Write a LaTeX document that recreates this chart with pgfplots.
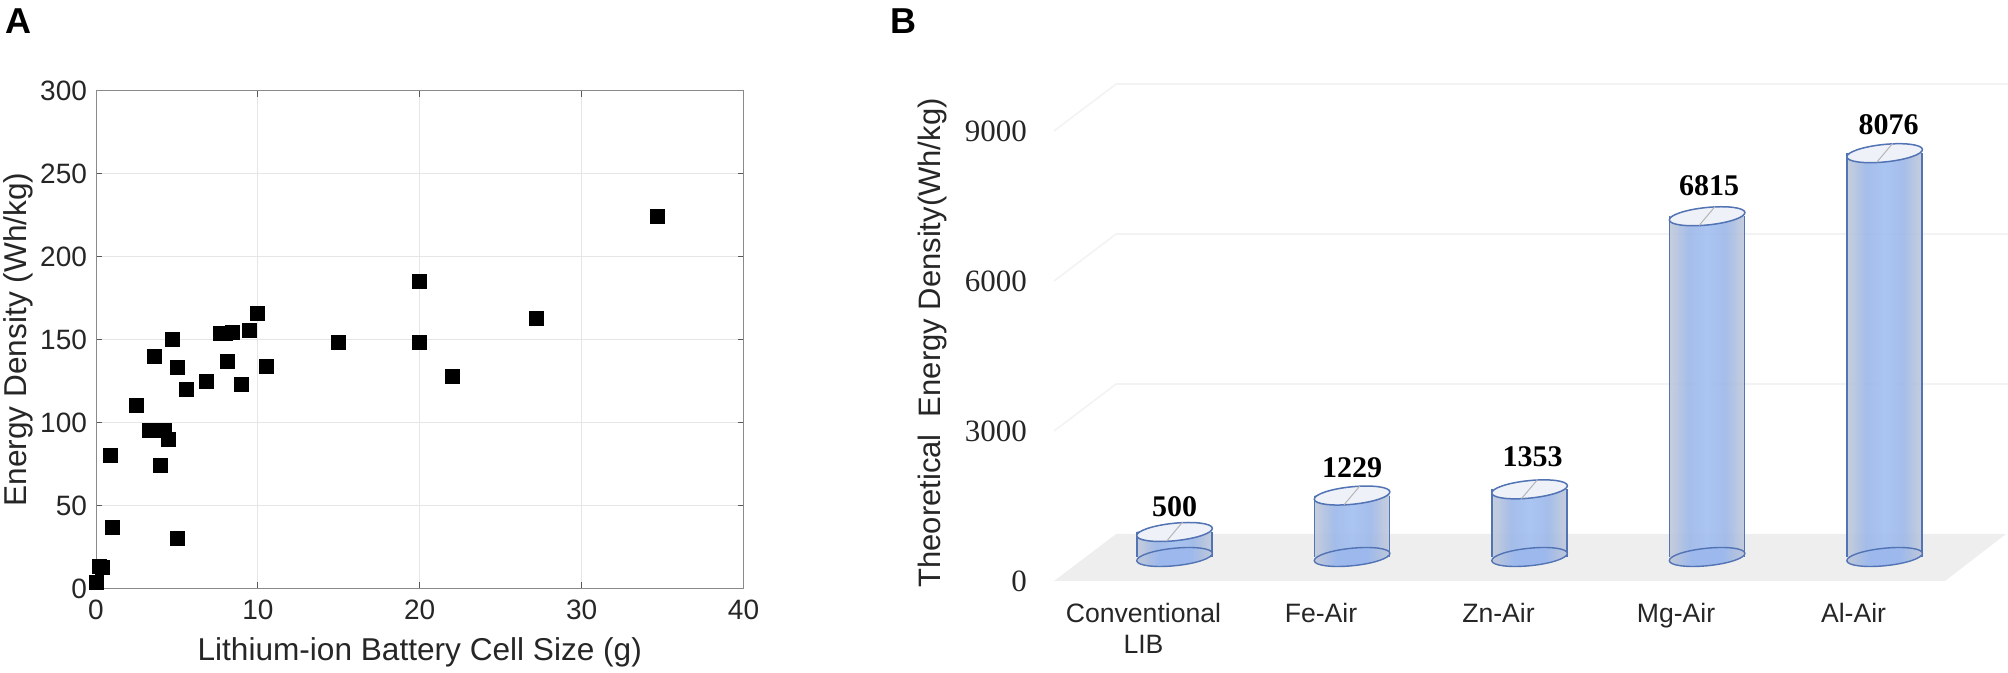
\documentclass[border=0pt]{standalone}
\usepackage{pgfplots}
\pgfplotsset{compat=1.18}
\usepackage{pgfplotstable}
\usepackage{fontspec}
\setmainfont{Liberation Sans}
\newfontfamily\timesf{Liberation Serif}
\definecolor{txt}{HTML}{262626}
\definecolor{axisc}{HTML}{8A8A8A}
\definecolor{gridc}{HTML}{E6E6E6}
\definecolor{floorc}{HTML}{EEEEEE}
\definecolor{wallc}{HTML}{F3F3F3}
\definecolor{linec}{HTML}{5273B4}
\definecolor{capc}{HTML}{EEF1F8}
\definecolor{diac}{HTML}{B5B5B5}
\definecolor{cedge}{HTML}{C2CAD9}
\definecolor{cmid}{HTML}{9DB8E8}
\definecolor{ccen}{HTML}{A4C0F2}
\definecolor{dedge}{HTML}{C0C8D8}
\definecolor{dmid}{HTML}{9CB8EC}
\pgfdeclarehorizontalshading{cyl}{100bp}{color(0bp)=(cedge); color(25bp)=(cedge); color(38bp)=(cmid); color(50bp)=(ccen); color(62bp)=(cmid); color(75bp)=(cedge); color(100bp)=(cedge)}
\pgfdeclarehorizontalshading{cylb}{100bp}{color(0bp)=(dedge); color(25bp)=(dedge); color(40bp)=(dmid); color(60bp)=(dmid); color(75bp)=(dedge); color(100bp)=(dedge)}
\pgfdeclareplotmark{capm}{%
  \pgfsetfillcolor{capc}\pgfsetstrokecolor{linec}\pgfsetlinewidth{0.75pt}%
  \pgfpathellipse{\pgfpointorigin}{\pgfpoint{18.9pt}{1.9pt}}{\pgfpoint{-0.42pt}{4.35pt}}%
  \pgfusepath{fill,stroke}%
  \pgfsetstrokecolor{diac}\pgfsetlinewidth{0.5pt}%
  \pgfpathmoveto{\pgfpoint{-4pt}{-4.6pt}}\pgfpathlineto{\pgfpoint{4pt}{4.9pt}}%
  \pgfusepath{stroke}}
\pgfdeclareplotmark{basem}{%
  \pgfsetstrokecolor{linec}\pgfsetlinewidth{0.7pt}%
  \pgfpathellipse{\pgfpointorigin}{\pgfpoint{18.9pt}{1.9pt}}{\pgfpoint{-0.42pt}{4.35pt}}%
  \pgfshadepath{cylb}{0}%
  \pgfusepath{stroke}}
\pgfplotstableread{
x y
0 3.6
0.2 13
0.4 12.5
1 37
0.9 80
5 30
4 74
4.5 90
4.2 95
3.3 95
2.5 110
5.6 120
6.8 125
5 133
3.6 140
4.7 150
7.7 153.6
8 153.6
8.4 154
8.1 137
9 123
9.5 155.5
10 166
10.5 133.7
15 148
20 148
20 185
22 127.5
27.2 163
34.7 224
}\cellsize
\pgfplotstableread{
x y label dx dy
0 500 500 0 12.5
1 1229 1229 0 14
2 1353 1353 1.5 16.5
3 6815 6815 1 15.5
4 8076 8076 2 14.5
}\theory
\pgfplotsset{cylbar/.style={ybar,bar width=37.5pt,bar shift=0pt,draw=none,shading=cyl,fill opacity=0.92}}
\begin{document}
\begin{tikzpicture}[x=1pt,y=1pt]
\useasboundingbox (0,0) rectangle (1004,336.5);
\node[anchor=center,font=\fontsize{18}{18}\selectfont\bfseries] at (9,326) {A};
\node[anchor=center,font=\fontsize{18}{18}\selectfont\bfseries] at (451.5,326) {B};
\begin{axis}[
  at={(48pt,42.3pt)},anchor=south west,scale only axis,
  width=323.75pt,height=248.9pt,
  xmin=0,xmax=40,ymin=0,ymax=300,
  xtick={0,10,20,30,40},ytick={0,50,100,150,200,250,300},
  grid=major,grid style={gridc,line width=0.4pt},
  axis line style={axisc,line width=0.5pt},
  tick style={black!65,line width=0.5pt},
  tick align=inside,major tick length=3pt,
  xtick pos=both,ytick pos=both,
  /pgf/number format/assume math mode=true,
  tick label style={font=\fontsize{14}{14}\selectfont,text=txt},
  xticklabel style={yshift=-2pt},
  yticklabel style={xshift=-1pt},
  xlabel={Lithium-ion Battery Cell Size (g)},
  ylabel={Energy Density (Wh/kg)},
  label style={font=\fontsize{15.8}{16}\selectfont,text=txt},
  xlabel style={at={(axis description cs:0.5,0)},anchor=center,yshift=-32pt},
  ylabel style={at={(axis description cs:0,0.5)},anchor=center,rotate=0,yshift=39pt},
  clip=false,axis on top=false]
\addplot[only marks,mark=square*,mark size=3.5pt,mark options={fill=black,draw=black}] table[x=x,y=y] {\cellsize};
\end{axis}
\begin{axis}[
  at={(527pt,46pt)},anchor=south west,scale only axis,
  width=477pt,height=253.5pt,
  xmin=-0.679,xmax=4.695,ymin=-480,ymax=9660,
  axis line style={draw=none},tick style={draw=none},
  xtick={-0.175,0.825,1.825,2.825,3.825},
  xticklabels={Conventional\\LIB,Fe-Air,Zn-Air,Mg-Air,Al-Air},
  xticklabel style={font=\fontsize{13.3}{15.5}\selectfont,text=txt,align=center,anchor=north,yshift=-7.5pt},
  ytick={-480,2520,5520,8520},
  yticklabels={0,3000,6000,9000},
  yticklabel style={font=\timesf\fontsize{15.5}{16}\selectfont,text=txt,anchor=east,xshift=-10pt},
  ylabel={Theoretical\ \ Energy Density(Wh/kg)},
  ylabel style={at={(axis description cs:0,0)},anchor=center,font=\fontsize{15.5}{16}\selectfont,text=txt,xshift=119pt,yshift=61pt},
  clip=false]
\addplot[fill=floorc,draw=none] coordinates {(-0.679,-480)(4.34,-480)(4.684,460)(-0.329,460)};
\addplot[wallc,line width=0.8pt] coordinates {(-0.679,2520)(-0.329,3460)(4.695,3460)};
\addplot[wallc,line width=0.8pt] coordinates {(-0.679,5520)(-0.329,6460)(4.695,6460)};
\addplot[wallc,line width=0.8pt] coordinates {(-0.679,8520)(-0.329,9460)(4.695,9460)};
\addplot[cylbar] coordinates {(0,500)};
\addplot[cylbar] coordinates {(1,1229)};
\addplot[cylbar] coordinates {(2,1353)};
\addplot[cylbar] coordinates {(3,6815)};
\addplot[cylbar] coordinates {(4,8076)};
\addplot[only marks,mark=basem] table[x=x,y expr=0] {\theory};
\addplot[ycomb,linec,line width=0.7pt,xshift=-18.75pt] table[x=x,y=y] {\theory};
\addplot[ycomb,linec,line width=0.7pt,xshift=18.75pt] table[x=x,y=y] {\theory};
\addplot[only marks,mark=capm,
  visualization depends on={\thisrow{dx} \as \dx},
  visualization depends on={\thisrow{dy} \as \dy},
  point meta=explicit symbolic,
  nodes near coords,
  every node near coord/.append style={anchor=center,xshift=\dx pt,yshift=\dy pt,font=\timesf\bfseries\fontsize{15}{15}\selectfont,text=black}]
  table[x=x,y=y,meta=label] {\theory};
\end{axis}
\end{tikzpicture}
\end{document}
